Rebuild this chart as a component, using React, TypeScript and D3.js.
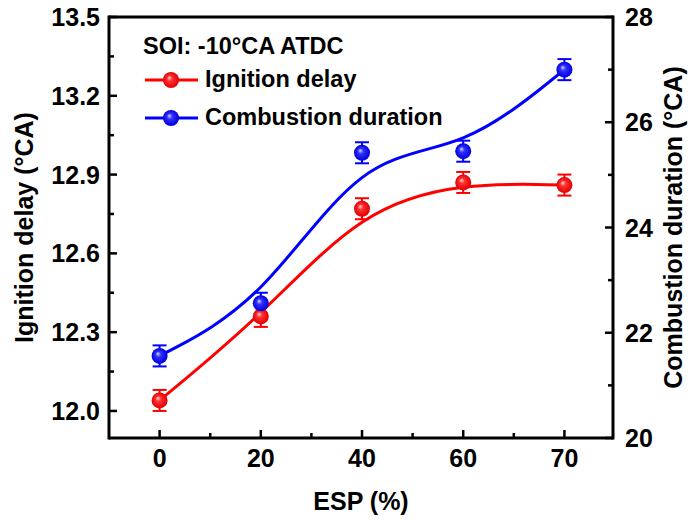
import React from "react";
import * as d3 from "d3";

const categories = ["0", "20", "40", "60", "70"];
const ignitionDelay = [12.04, 12.36, 12.77, 12.87, 12.86];
const ignitionErr = [0.04, 0.04, 0.04, 0.04, 0.04];
const combustionDuration = [21.56, 22.56, 25.42, 25.45, 27.0];
const combustionErr = [0.2, 0.2, 0.2, 0.2, 0.2];
const leftTicks = [12.0, 12.3, 12.6, 12.9, 13.2, 13.5];
const leftMinor = [12.15, 12.45, 12.75, 13.05, 13.35];
const rightTicks = [20, 22, 24, 26, 28];
const rightMinor = [21, 23, 25, 27];
const xMinor = [0.5, 1.5, 2.5, 3.5];

const W = 699, H = 522;
const L = 109, R = 613, T = 17, B = 438;
const FONT = "'Liberation Sans', Arial, sans-serif";

export default function App() {
  const x = d3.scaleLinear().domain([-0.5, 4.48]).range([L, R]);
  const yL = d3.scaleLinear().domain([11.897, 13.5]).range([B, T]);
  const yR = d3.scaleLinear().domain([20, 28]).range([B, T]);
  const idx = categories.map((_, i) => i);

  const lineL = d3.line<number>().x((i) => x(i)).y((i) => yL(ignitionDelay[i])).curve(d3.curveBasis);
  const lineR = d3.line<number>().x((i) => x(i)).y((i) => yR(combustionDuration[i])).curve(d3.curveBasis);

  const marker = (cx: number, cy: number, grad: string, key: string) => (
    <circle key={key} cx={cx} cy={cy} r={8} fill={`url(#${grad})`} />
  );

  const errBar = (cx: number, y1: number, y2: number, color: string, key: string) => (
    <g key={key} stroke={color} strokeWidth={2}>
      <line x1={cx} x2={cx} y1={y1} y2={y2} />
      <line x1={cx - 7} x2={cx + 7} y1={y1} y2={y1} />
      <line x1={cx - 7} x2={cx + 7} y1={y2} y2={y2} />
    </g>
  );

  return (
    <svg width={W} height={H} style={{ position: "absolute", left: 0, top: 0, background: "#fff" }} fontFamily={FONT} fontWeight="bold">
      <defs>
        <radialGradient id="gRed" cx="0.5" cy="0.5" r="0.5" fx="0.38" fy="0.35">
          <stop offset="0" stopColor="#ffd6d6" />
          <stop offset="0.35" stopColor="#ff3030" />
          <stop offset="1" stopColor="#e00000" />
        </radialGradient>
        <radialGradient id="gBlue" cx="0.5" cy="0.5" r="0.5" fx="0.38" fy="0.35">
          <stop offset="0" stopColor="#d6d6ff" />
          <stop offset="0.35" stopColor="#3030ff" />
          <stop offset="1" stopColor="#0000d8" />
        </radialGradient>
      </defs>

      {/* frame */}
      <g stroke="#000" strokeWidth={3} fill="none">
        <line x1={L} x2={R} y1={T} y2={T} />
        <line x1={L} x2={R} y1={B} y2={B} />
        <line x1={L} x2={L} y1={T - 1.5} y2={B + 1.5} />
        <line x1={R} x2={R} y1={T - 1.5} y2={B + 1.5} />
      </g>

      {/* ticks */}
      <g stroke="#000" strokeWidth={2.5}>
        {leftTicks.map((v) => <line key={"lt" + v} x1={L} x2={L + 8} y1={yL(v)} y2={yL(v)} />)}
        {leftMinor.map((v) => <line key={"lm" + v} x1={L} x2={L + 5} y1={yL(v)} y2={yL(v)} />)}
        {rightTicks.map((v) => <line key={"rt" + v} x1={R} x2={R - 8} y1={yR(v)} y2={yR(v)} />)}
        {rightMinor.map((v) => <line key={"rm" + v} x1={R} x2={R - 5} y1={yR(v)} y2={yR(v)} />)}
        {idx.map((i) => <line key={"xt" + i} x1={x(i)} x2={x(i)} y1={B} y2={B - 8} />)}
        {xMinor.map((v) => <line key={"xm" + v} x1={x(v)} x2={x(v)} y1={B} y2={B - 5} />)}
      </g>

      {/* tick labels */}
      <g fontSize={25} fill="#000">
        {leftTicks.map((v) => (
          <text key={"ll" + v} x={L - 9} y={yL(v) + 9} textAnchor="end">{v.toFixed(1)}</text>
        ))}
        {rightTicks.map((v) => (
          <text key={"rl" + v} x={R + 12} y={yR(v) + 9} textAnchor="start">{v}</text>
        ))}
        {categories.map((c, i) => (
          <text key={"xl" + c} x={x(i)} y={467} textAnchor="middle">{c}</text>
        ))}
      </g>

      {/* axis titles */}
      <text x={(L + R) / 2} y={510} textAnchor="middle" fontSize={25}>ESP (%)</text>
      <text transform={`translate(33,${(T + B) / 2}) rotate(-90)`} textAnchor="middle" fontSize={25}>Ignition delay (°CA)</text>
      <text transform={`translate(682,${(T + B) / 2}) rotate(-90)`} textAnchor="middle" fontSize={25}>Combustion duration (°CA)</text>

      {/* curves */}
      <path d={lineL(idx) || ""} fill="none" stroke="#ff0000" strokeWidth={3} />
      <path d={lineR(idx) || ""} fill="none" stroke="#0000ff" strokeWidth={3} />

      {/* error bars + markers */}
      {idx.map((i) => errBar(x(i), yL(ignitionDelay[i] + ignitionErr[i]), yL(ignitionDelay[i] - ignitionErr[i]), "#ff0000", "er" + i))}
      {idx.map((i) => errBar(x(i), yR(combustionDuration[i] + combustionErr[i]), yR(combustionDuration[i] - combustionErr[i]), "#0000ff", "eb" + i))}
      {idx.map((i) => marker(x(i), yL(ignitionDelay[i]), "gRed", "mr" + i))}
      {idx.map((i) => marker(x(i), yR(combustionDuration[i]), "gBlue", "mb" + i))}

      {/* legend */}
      <text x={143} y={54} fontSize={23.5}>SOI: -10°CA ATDC</text>
      <line x1={145} x2={198} y1={80} y2={80} stroke="#ff0000" strokeWidth={3} />
      <circle cx={171} cy={80} r={8} fill="url(#gRed)" />
      <text x={205} y={87} fontSize={23.5}>Ignition delay</text>
      <line x1={145} x2={198} y1={118} y2={118} stroke="#0000ff" strokeWidth={3} />
      <circle cx={171} cy={118} r={8} fill="url(#gBlue)" />
      <text x={205} y={125} fontSize={23.5}>Combustion duration</text>
    </svg>
  );
}
